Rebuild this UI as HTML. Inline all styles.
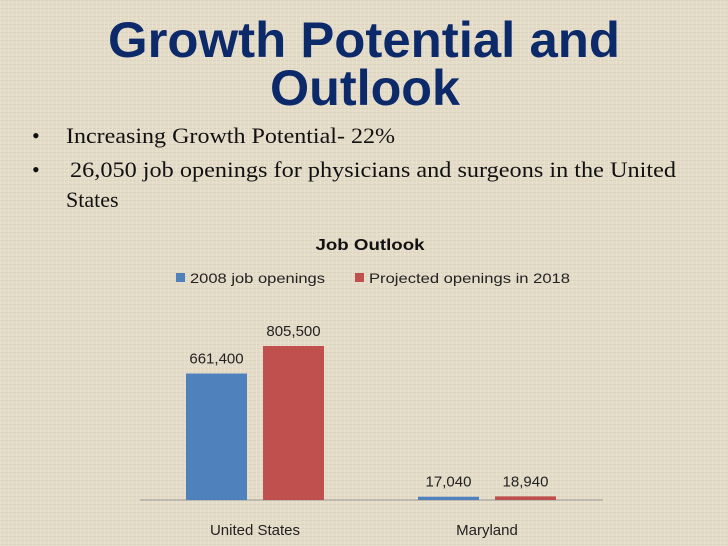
<!DOCTYPE html>
<html><head><meta charset="utf-8"><style>
html,body{margin:0;padding:0;background:#e3dac8;}
svg{display:block}
</style></head><body>
<svg width="728" height="546" viewBox="0 0 728 546" xmlns="http://www.w3.org/2000/svg">
<defs>
<pattern id="linen" width="4" height="4" patternUnits="userSpaceOnUse">
<rect width="4" height="4" fill="#e4dbc9"/>
<rect width="4" height="1" fill="#d9cfbb" opacity="0.6"/>
<rect width="1" height="4" fill="#ece5d6" opacity="0.6"/>
</pattern>
</defs>
<rect width="728" height="546" fill="url(#linen)"/>
<g font-family="'Liberation Sans', sans-serif" font-weight="bold" fill="#0c2a6a" font-size="50" text-anchor="middle">
<text x="364" y="57" textLength="512" lengthAdjust="spacingAndGlyphs">Growth Potential and</text>
<text x="365" y="105" textLength="190" lengthAdjust="spacingAndGlyphs">Outlook</text>
</g>
<g font-family="'Liberation Serif', serif" font-size="22" fill="#111">
<text x="32" y="143">•</text>
<text x="66" y="143" textLength="329" lengthAdjust="spacingAndGlyphs">Increasing Growth Potential- 22%</text>
<text x="32" y="177">•</text>
<text x="70" y="177" textLength="606" lengthAdjust="spacingAndGlyphs">26,050 job openings for physicians and surgeons in the United</text>
<text x="66" y="207">States</text>
</g>
<g id="chart" font-family="'Liberation Sans', sans-serif">
<text x="370" y="250" text-anchor="middle" font-weight="bold" font-size="16" fill="#111" textLength="109" lengthAdjust="spacingAndGlyphs">Job Outlook</text>
<rect x="176" y="273" width="9" height="9" fill="#4f81bd"/>
<text x="190" y="283" font-size="14" fill="#222" textLength="135" lengthAdjust="spacingAndGlyphs">2008 job openings</text>
<rect x="355" y="273" width="9" height="9" fill="#c0504d"/>
<text x="369" y="283" font-size="14" fill="#222" textLength="201" lengthAdjust="spacingAndGlyphs">Projected openings in 2018</text>
<line x1="140" y1="500" x2="603" y2="500" stroke="#999" stroke-width="1"/>
<g id="bars"></g>
</g>
</svg>
<script>
const categories = ["United States", "Maryland"];
const series2008 = [661400, 17040];
const series2018 = [805500, 18940];
const valueLabels2008 = ["661,400", "17,040"];
const valueLabels2018 = ["805,500", "18,940"];

const NS = "http://www.w3.org/2000/svg";
const baseY = 500, pxPerUnit = 154 / 805500;
const catCenter = i => 255 + i * 232;
const yScale = v => baseY - v * pxPerUnit;
const g = document.getElementById('bars');
function mk(tag, attrs){const e=document.createElementNS(NS,tag);for(const k in attrs)e.setAttribute(k,attrs[k]);return e;}
categories.forEach((c, i) => {
  const cx = catCenter(i);
  [[series2008, valueLabels2008, "#4f81bd", -69, "2008"], [series2018, valueLabels2018, "#c0504d", 8, "2018"]].forEach(s => {
    const v = s[0][i];
    const y = yScale(v);
    const r = mk('rect', {x: cx + s[3], y: y, width: 61, height: baseY - y, fill: s[2]});
    
    
    g.appendChild(r);
    const t = mk('text', {x: cx + s[3] + 30.5, y: y - 10, 'text-anchor': 'middle', 'font-size': 15, fill: '#222'});
    t.textContent = s[1][i];
    
    
    g.appendChild(t);
  });
  const l = mk('text', {x: cx, y: 535, 'text-anchor': 'middle', 'font-size': 15, fill: '#222'});
  l.textContent = c;
  
  
  g.appendChild(l);
});
</script>
</body></html>
